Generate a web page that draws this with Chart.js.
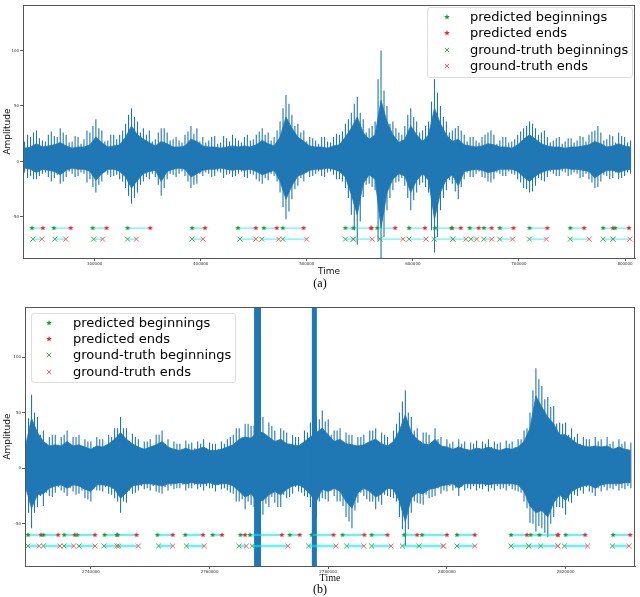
<!DOCTYPE html>
<html><head><meta charset="utf-8">
<script src="https://cdn.jsdelivr.net/npm/chart.js@4.4.0/dist/chart.umd.min.js"></script>
<style>
body{margin:0;width:640px;height:597px;background:#fff;position:relative;overflow:hidden;font-family:"DejaVu Sans",sans-serif}
.wrap{position:absolute;left:0;width:640px}
.legend{position:absolute;border:1px solid #ddd;border-radius:3px;background:rgba(255,255,255,0.85);font:13px "DejaVu Sans",sans-serif;color:#000;box-sizing:border-box}
.row{position:absolute;height:16px;line-height:16px;white-space:nowrap}
.mk{position:absolute;width:8px;height:8px}
.cap{position:absolute;font:12px "Liberation Serif",serif;transform:translateX(-50%)}
</style></head><body>
<div class="wrap" style="top:0;height:281px"><canvas id="ca"></canvas></div>
<div class="wrap" style="top:295px;height:293px"><canvas id="cb"></canvas></div>
<div class="legend" id="la" style="left:427px;top:7px;width:206px;height:71px"></div>
<div class="legend" id="lb" style="left:31px;top:313px;width:205px;height:70px"></div>
<div class="cap" style="left:320px;top:276px">(a)</div>
<div class="cap" style="left:320px;top:582px">(b)</div>
<script>
// ---------- Panel (a) data ----------
const aXTicks = [300000, 400000, 500000, 600000, 700000, 800000];
const aXLabels = ["300000", "400000", "500000", "600000", "700000", "800000"];
const aYTicks = [-50, 0, 50, 100];
const aYLabels = ["-50", "0", "50", "100"];
const aWaveStart = 234000, aWaveStep = 5600;
// peak amplitudes at each grid sample
const aUpper = [18,22,28,19,24,23,30,24,18,22, 20,26,38,28,19,24,24,34,48,36, 30,28,20,30,26,20,19,24,32,30,
  22,19,23,17,21,24,19,22,19,24, 30,26,22,36,60,42,34,28,22,19, 22,18,22,24,34,44,58,38,30,36,
  100,50,36,26,32,48,36,28,36,74, 50,36,28,32,24,22,19,22,26,24, 19,22,18,24,30,36,30,26,22,19,
  22,18,21,19,22,24,28,26,20,23, 26,22,19];
const aLower = [-10,-13,-16,-11,-14,-15,-20,-14,-11,-13, -11,-16,-28,-18,-12,-13,-16,-24,-38,-28, -18,-16,-14,-31,-16,-12,-11,-13,-24,-20,
  -13,-11,-13,-10,-12,-14,-11,-14,-11,-16, -20,-17,-13,-28,-52,-34,-22,-18,-14,-11, -13,-10,-12,-16,-24,-48,-75,-32,-20,-26,
  -98,-44,-26,-18,-22,-44,-28,-19,-28,-82, -44,-26,-20,-34,-16,-14,-11,-14,-18,-16, -11,-13,-11,-16,-24,-28,-22,-17,-14,-11,
  -13,-10,-12,-11,-14,-16,-24,-18,-13,-15, -16,-13,-11];
// peaks half-way between grid samples
const aMidHi = [24,26,21,18,27,22,26,17,23,16, 28,32,30,18,24,20,28,42,40,26, 24,18,26,30,19,22,17,27,25,18,
  17,22,16,23,18,21,17,24,20,27, 24,19,28,48,52,32,26,18,21,16, 22,17,25,27,38,52,44,26,32,74,
  64,34,30,24,42,40,26,32,54,62, 40,26,30,28,18,22,17,24,28,16, 22,17,20,27,32,34,24,28,17,21,
  16,21,17,23,18,27,32,19,24,17, 23,17];
const aMidLo = [-15,-16,-13,-10,-18,-12,-18,-9,-14,-10, -19,-23,-21,-10,-14,-12,-18,-31,-33,-21, -14,-11,-21,-24,-11,-14,-9,-18,-21,-11,
  -10,-14,-9,-15,-11,-13,-9,-15,-12,-18, -15,-11,-18,-41,-45,-25,-15,-10,-13,-9, -14,-9,-16,-18,-33,-62,-54,-21,-23,-72,
  -68,-33,-19,-15,-33,-35,-21,-23,-62,-68, -33,-17,-27,-23,-10,-14,-9,-15,-19,-10, -13,-9,-12,-19,-25,-27,-15,-18,-9,-13,
  -9,-13,-10,-15,-11,-19,-23,-12,-16,-10, -15,-10];
// dense core of the signal
const aCoreHi = [12,13,16,13,14,15,17,14,12,13, 13,15,22,17,13,14,15,22,32,24, 20,17,14,18,16,13,13,14,20,18,
  14,13,13,12,13,14,13,14,13,15, 19,16,14,22,40,30,22,18,14,13, 13,12,14,15,22,30,40,26,20,24,
  55,36,24,17,20,32,24,18,24,48, 34,24,18,20,15,14,13,14,16,15, 13,13,12,15,20,24,20,16,14,13,
  13,12,13,13,14,15,18,16,13,14, 16,14,13];
const aCoreLo = [-6,-7,-10,-7,-8,-9,-12,-8,-6,-7, -7,-9,-17,-11,-7,-7,-9,-14,-24,-17, -11,-9,-8,-18,-9,-7,-6,-7,-14,-11,
  -8,-7,-7,-6,-7,-8,-7,-8,-7,-9, -12,-10,-8,-18,-34,-22,-13,-11,-8,-7, -7,-6,-7,-9,-14,-30,-48,-20,-12,-16,
  -60,-28,-16,-11,-13,-28,-17,-11,-17,-52, -28,-16,-12,-22,-9,-8,-7,-8,-10,-9, -7,-7,-7,-9,-14,-18,-13,-10,-8,-7,
  -7,-6,-7,-7,-8,-9,-15,-11,-8,-8, -10,-8,-7];
const aPredBeg = [240900,261500,298100,331000,391900,435100,459500,477300,536400,543900,566400,596400,620800,636700,653600,666800,681800,709900,748400,779300,790600];
const aPredEnd = [251200,277500,311300,352500,404100,452000,471700,497000,560800,560800,583300,611400,636700,645200,662100,674300,694900,726800,761500,788700,803700];
const aTrueBeg = [241800,262500,299100,331000,391900,437000,457600,477300,536400,543900,569200,596400,619900,637700,654600,666800,681800,709900,748400,779300,788700];
const aTrueEnd = [250300,272800,307500,339400,402200,452000,473500,499800,543900,561700,590800,612400,637700,649900,660200,674300,694000,725900,766200,788700,804600];

// ---------- Panel (b) data ----------
const bXTicks = [2740000, 2760000, 2780000, 2800000, 2820000];
const bXLabels = ["2740000", "2760000", "2780000", "2800000", "2820000"];
const bYTicks = [-50, 0, 50, 100];
const bYLabels = ["-50", "0", "50", "100"];
const bWaveStart = 2729000, bWaveStep = 1000;
const bUpper = [28,66,46,34,28,30,28,34,28,30, 26,24,28,26,30,36,46,36,31,26, 24,26,30,34,26,24,22,25,23,24,
  26,23,22,24,26,30,36,40,38,46, 46,41,34,36,32,30,28,34,41,46, 52,44,34,36,32,30,28,30,34,36,
  32,28,34,50,70,46,36,32,30,36, 28,26,24,26,24,23,25,24,26,24, 23,25,24,26,34,50,90,74,64,56,
  41,41,36,31,28,26,28,26,28,24, 26,24,23];
const bLower = [-24,-54,-35,-34,-25,-22,-20,-25,-21,-23, -27,-30,-20,-21,-23,-27,-40,-31,-23,-20, -19,-20,-21,-23,-20,-19,-18,-20,-18,-19,
  -20,-18,-21,-19,-20,-23,-30,-37,-33,-44, -42,-35,-31,-35,-27,-23,-21,-25,-35,-44, -27,-30,-25,-30,-44,-54,-31,-25,-30,-37,
  -33,-25,-27,-44,-70,-40,-31,-33,-27,-25, -23,-21,-20,-25,-20,-19,-20,-19,-21,-20, -19,-20,-19,-21,-30,-49,-57,-54,-62,-44,
  -35,-42,-31,-25,-23,-21,-25,-21,-20,-19, -20,-19,-18];
const bMidHi = [45,50,30,22,30,21,30,22,28,20, 24,19,26,20,28,36,36,24,28,18, 24,20,30,22,18,22,17,22,18,22,
  18,22,17,22,28,36,28,40,38,44, 30,38,24,34,22,28,20,32,38,44, 42,30,34,24,30,20,28,22,34,24,
  30,20,40,60,50,34,24,32,22,26, 19,22,18,22,17,22,18,22,19,22, 17,22,19,26,36,70,80,62,55,40,
  40,30,28,22,26,19,24,18,22,18, 22,17];
const bMidLo = [-40,-40,-25,-22,-26,-17,-22,-18,-24,-20, -28,-19,-20,-17,-24,-30,-30,-20,-22,-16, -18,-16,-22,-17,-16,-18,-15,-18,-15,-17,
  -16,-18,-15,-18,-22,-30,-28,-30,-35,-36, -32,-26,-35,-24,-26,-17,-22,-26,-36,-30, -28,-20,-30,-34,-48,-38,-22,-28,-30,-30,
  -24,-26,-30,-55,-55,-30,-32,-24,-26,-18, -20,-16,-18,-17,-18,-16,-18,-16,-18,-16, -18,-16,-20,-22,-36,-50,-52,-58,-50,-35,
  -36,-30,-24,-20,-17,-22,-18,-17,-18,-16, -18,-16];
const bCoreHi = [20,45,32,24,20,21,20,24,20,21, 19,17,20,19,22,26,32,26,22,19, 17,19,21,24,19,17,16,18,16,17,
  19,16,16,17,19,21,26,28,27,32, 32,28,24,26,22,21,20,24,28,32, 36,30,24,26,22,21,20,21,24,26,
  22,20,24,34,48,32,26,22,21,26, 20,19,17,19,17,16,18,17,19,17, 16,18,17,19,24,36,65,55,46,40,
  30,30,26,22,20,19,20,19,20,17, 19,17,16];
const bCoreLo = [-17,-36,-24,-23,-18,-16,-15,-18,-15,-16, -19,-21,-15,-15,-16,-19,-27,-22,-16,-15, -14,-14,-15,-16,-14,-14,-13,-14,-13,-14,
  -14,-13,-15,-14,-14,-16,-21,-26,-23,-30, -29,-24,-21,-24,-19,-16,-15,-18,-24,-30, -19,-21,-18,-21,-30,-36,-22,-18,-21,-26,
  -23,-18,-19,-30,-48,-27,-22,-23,-19,-18, -16,-15,-14,-18,-14,-14,-14,-14,-15,-14, -14,-14,-14,-15,-21,-34,-40,-38,-44,-31,
  -24,-29,-21,-18,-16,-15,-18,-15,-14,-14, -14,-13,-13];
const bSaturated = [[2767500, 2768700], [2777200, 2778100]];
const bPredBeg = [2729400,2732000,2735500,2737700,2742300,2744400,2751200,2755900,2760500,2765200,2766800,2773500,2777200,2782400,2787300,2792800,2795800,2801700,2810800,2814100,2815600,2820000,2828000];
const bPredEnd = [2731600,2734500,2737300,2740700,2744500,2747700,2753800,2758900,2762100,2766000,2772200,2775200,2780900,2786100,2790000,2795000,2800000,2804700,2813500,2818700,2818700,2823300,2830900];
const bTrueBeg = [2729400,2732000,2735500,2738000,2742200,2744700,2751400,2756100,2765000,2767200,2776700,2783100,2787300,2792500,2795300,2801700,2810800,2813800,2815800,2819800,2827900];
const bTrueEnd = [2731300,2734800,2737100,2740700,2744400,2748000,2753800,2759100,2766200,2773200,2781300,2786000,2790600,2799400,2799400,2804700,2813800,2818700,2818700,2823700,2830700];

const PRED_LEVEL = -60, TRUE_LEVEL = -70;
const legendLabels = ["predicted beginnings", "predicted ends", "ground-truth beginnings", "ground-truth ends"];

// ---------- styling ----------
const WAVE = '#1f77b4';
const GREEN_STAR = '#12a02e', RED_STAR = '#f0242c';
const GREEN_X = '#3bb54a', RED_X = '#ff5a5a';

function starImg(color, r) {
  const c = document.createElement('canvas');
  const s = Math.ceil(r * 2 + 2);
  c.width = s; c.height = s;
  const g = c.getContext('2d');
  g.fillStyle = color; g.beginPath();
  for (let k = 0; k < 10; k++) {
    const rr = k % 2 ? r * 0.45 : r;
    const a = -Math.PI / 2 + k * Math.PI / 5;
    g.lineTo(s / 2 + rr * Math.cos(a), s / 2 + rr * Math.sin(a));
  }
  g.closePath(); g.fill();
  return c;
}

function segs(beg, end, level) {
  const out = [];
  for (let i = 0; i < beg.length; i++) out.push({x: beg[i], y: level}, {x: end[i], y: level}, {x: end[i], y: null});
  return out;
}
function pts(arr, level) { return arr.map(v => ({x: v, y: level})); }
function wave(start, step, vals) { return vals.map((v, i) => ({x: start + i * step, y: v})); }
function vlines(start, step, offset, hi, lo) {
  const out = [];
  for (let i = 0; i < hi.length; i++) {
    const t = start + (i + offset) * step;
    out.push({x: t, y: lo[i]}, {x: t, y: hi[i]}, {x: t, y: null});
  }
  return out;
}

const framePlugin = {
  id: 'frame',
  afterDatasetsDraw(chart) {
    const {ctx, chartArea: a} = chart;
    ctx.save(); ctx.strokeStyle = '#555'; ctx.lineWidth = 1;
    ctx.strokeRect(Math.round(a.left) + 0.5, Math.round(a.top) + 0.5, Math.round(a.right - a.left) - 1, Math.round(a.bottom - a.top));
    ctx.restore();
  }
};

function makePanel(id, cfg) {
  const datasets = [
    {data: wave(cfg.start, cfg.step, cfg.coreHi), borderColor: WAVE, borderWidth: 0.8, pointRadius: 0, fill: false, order: 10},
    {data: wave(cfg.start, cfg.step, cfg.coreLo), borderColor: WAVE, borderWidth: 0.8, pointRadius: 0, fill: '-1', backgroundColor: WAVE, order: 10},
    {data: vlines(cfg.start, cfg.step, 0, cfg.upper, cfg.lower), borderColor: WAVE, borderWidth: 1.1, pointRadius: 0, spanGaps: false, order: 11},
    {data: vlines(cfg.start, cfg.step, 0.5, cfg.midHi, cfg.midLo), borderColor: WAVE, borderWidth: 1.1, pointRadius: 0, spanGaps: false, order: 11}
  ];
  if (cfg.sat) {
    cfg.sat.forEach(s => {
      datasets.push({data: [{x: s[0], y: 400}, {x: s[1], y: 400}], borderWidth: 0, pointRadius: 0, fill: false, order: 9});
      datasets.push({data: [{x: s[0], y: -400}, {x: s[1], y: -400}], borderWidth: 0, pointRadius: 0, fill: '-1', backgroundColor: WAVE, order: 9});
    });
  }
  datasets.push(
    {data: segs(cfg.pb, cfg.pe, PRED_LEVEL), borderColor: 'rgba(0,235,245,0.6)', borderWidth: cfg.lw, pointRadius: 0, spanGaps: false, order: 5},
    {data: segs(cfg.tb, cfg.te, TRUE_LEVEL), borderColor: 'rgba(0,235,245,0.6)', borderWidth: cfg.lw, pointRadius: 0, spanGaps: false, order: 5},
    {data: pts(cfg.pb, PRED_LEVEL), showLine: false, pointStyle: starImg(GREEN_STAR, 2.8), order: 1},
    {data: pts(cfg.pe, PRED_LEVEL), showLine: false, pointStyle: starImg(RED_STAR, 2.8), order: 1},
    {data: pts(cfg.tb, TRUE_LEVEL), showLine: false, pointStyle: 'crossRot', radius: 3.5, borderColor: GREEN_X, borderWidth: 1, order: 1},
    {data: pts(cfg.te, TRUE_LEVEL), showLine: false, pointStyle: 'crossRot', radius: 3.5, borderColor: RED_X, borderWidth: 1, order: 1}
  );
  return new Chart(document.getElementById(id), {
    type: 'line',
    data: {datasets},
    options: {
      responsive: true, maintainAspectRatio: false, animation: false,
      layout: {padding: {left: 0, right: 2, top: cfg.padTop, bottom: 0}},
      elements: {line: {tension: 0}},
      plugins: {legend: {display: false}, tooltip: {enabled: false}},
      scales: {
        x: {
          type: 'linear', min: cfg.xmin, max: cfg.xmax,
          afterBuildTicks: s => { s.ticks = cfg.xt.map(v => ({value: v})); },
          afterFit: s => { s.height = cfg.xh; },
          ticks: {autoSkip: false, maxRotation: 0, font: {size: 4, family: 'DejaVu Sans'}, color: '#333', padding: 1,
            callback: (v) => cfg.xl[cfg.xt.indexOf(v)]},
          grid: {display: true, drawOnChartArea: false, drawTicks: true, tickLength: 3, color: '#333', lineWidth: 0.8},
          border: {display: true, color: '#555', width: 1},
          title: {display: true, text: 'Time', font: cfg.xtFont, color: '#111', padding: {top: 0, bottom: 4}}
        },
        y: {
          type: 'linear', min: cfg.ymin, max: cfg.ymax,
          afterBuildTicks: s => { s.ticks = cfg.yt.map(v => ({value: v})); },
          afterFit: s => { s.width = cfg.yw; },
          ticks: {autoSkip: false, font: {size: 4, family: 'DejaVu Sans'}, color: '#333', padding: 1,
            callback: (v) => cfg.yl[cfg.yt.indexOf(v)]},
          grid: {display: true, drawOnChartArea: false, drawTicks: true, tickLength: 3, color: '#333', lineWidth: 0.8},
          border: {display: true, color: '#555', width: 1},
          title: {display: true, text: 'Amplitude', font: {size: 9, family: 'DejaVu Sans'}, color: '#111', padding: {top: 2, bottom: 0}}
        }
      }
    },
    plugins: [framePlugin]
  });
}

makePanel('ca', {start: aWaveStart, step: aWaveStep, upper: aUpper, lower: aLower, midHi: aMidHi, midLo: aMidLo, coreHi: aCoreHi, coreLo: aCoreLo,
  pb: aPredBeg, pe: aPredEnd, tb: aTrueBeg, te: aTrueEnd, lw: 1.3,
  xmin: 232500, xmax: 809400, ymin: -87, ymax: 141, xt: aXTicks, xl: aXLabels, yt: aYTicks, yl: aYLabels,
  padTop: 3, xh: 23, yw: 23, xtFont: {size: 9, family: 'DejaVu Sans'}});
makePanel('cb', {start: bWaveStart, step: bWaveStep, upper: bUpper, lower: bLower, midHi: bMidHi, midLo: bMidLo, coreHi: bCoreHi, coreLo: bCoreLo, sat: bSaturated,
  pb: bPredBeg, pe: bPredEnd, tb: bTrueBeg, te: bTrueEnd, lw: 2.4,
  xmin: 2728900, xmax: 2831700, ymin: -88, ymax: 145, xt: bXTicks, xl: bXLabels, yt: bYTicks, yl: bYLabels,
  padTop: 12, xh: 22, yw: 25, xtFont: {size: 10, family: 'Liberation Serif'}});

// ---------- legends ----------
function starSVG(color) {
  let p = [];
  for (let k = 0; k < 10; k++) {
    const rr = k % 2 ? 1.3 : 3; const a = -Math.PI / 2 + k * Math.PI / 5;
    p.push((4 + rr * Math.cos(a)).toFixed(2) + ',' + (4 + rr * Math.sin(a)).toFixed(2));
  }
  return '<svg class="mk" viewBox="0 0 8 8"><polygon points="' + p.join(' ') + '" fill="' + color + '"/></svg>';
}
function xSVG(color) {
  return '<svg class="mk" viewBox="0 0 8 8"><path d="M1.8 1.8L6.2 6.2M6.2 1.8L1.8 6.2" stroke="' + color + '" stroke-width="1"/></svg>';
}
function buildLegend(id, mx, tx, rows) {
  const el = document.getElementById(id);
  const marks = [starSVG(GREEN_STAR), starSVG(RED_STAR), xSVG(GREEN_X), xSVG(RED_X)];
  legendLabels.forEach((t, i) => {
    const m = document.createElement('div');
    m.style.cssText = 'position:absolute;left:' + (mx - 4) + 'px;top:' + (rows[i] - 4) + 'px;width:8px;height:8px';
    m.innerHTML = marks[i];
    el.appendChild(m);
    const r = document.createElement('div');
    r.className = 'row';
    r.style.left = tx + 'px'; r.style.top = (rows[i] - 8) + 'px';
    r.textContent = t;
    el.appendChild(r);
  });
}
buildLegend('la', 19, 42, [9, 25, 42, 58]);
buildLegend('lb', 17, 41, [9, 25, 41, 58]);
</script>
</body></html>
